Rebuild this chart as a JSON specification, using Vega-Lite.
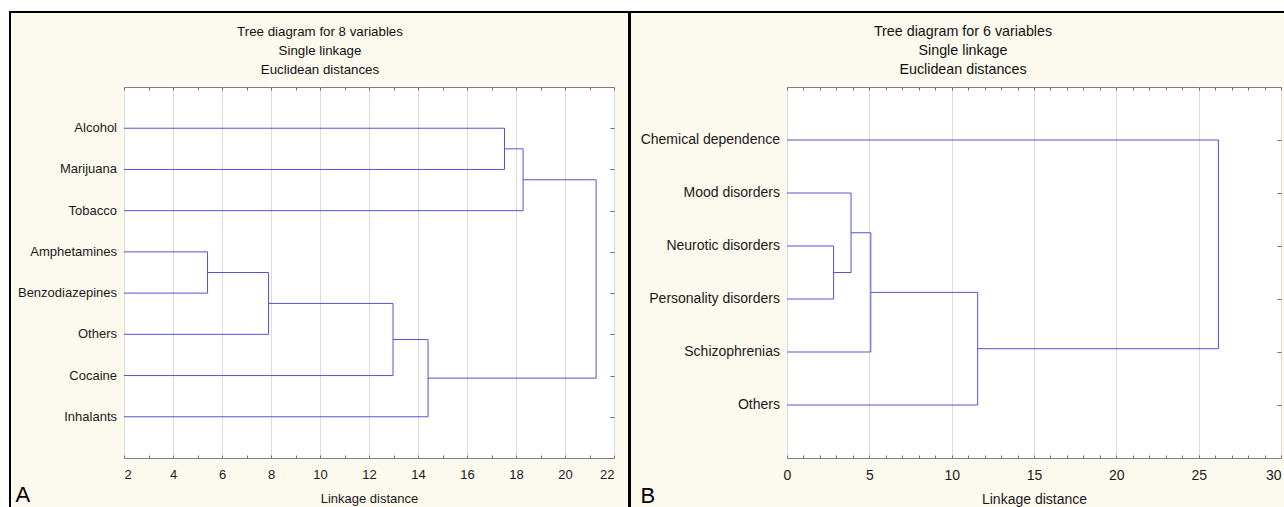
{
  "$schema": "https://vega.github.io/schema/vega-lite/v6.json",
  "background": "#fcf9ee",
  "padding": 0,
  "bounds": "flush",
  "spacing": 0,
  "align": "each",
  "columns": 9,
  "config": {
    "font": "Liberation Sans",
    "view": {"stroke": null},
    "concat": {"spacing": 0},
    "title": {"fontWeight": "normal", "fontSize": 13.3, "color": "#111111", "font": "Liberation Sans"},
    "axis": {"labelFont": "Liberation Sans", "titleFont": "Liberation Sans", "labelColor": "#1a1a1a", "titleColor": "#1a1a1a", "tickColor": "#707070", "domain": false}
  },
  "concat": [
    {"width": 9, "height": 11, "data": {"values": []}, "mark": "rect", "encoding": {}, "view": {"fill": "white", "stroke": null}},
    {"width": 2, "height": 11, "data": {"values": []}, "mark": "rect", "encoding": {}, "view": {"fill": "white", "stroke": null}},
    {"width": 113, "height": 11, "data": {"values": []}, "mark": "rect", "encoding": {}, "view": {"fill": "white", "stroke": null}},
    {"width": 490, "height": 11, "data": {"values": []}, "mark": "rect", "encoding": {}, "view": {"fill": "white", "stroke": null}},
    {"width": 14, "height": 11, "data": {"values": []}, "mark": "rect", "encoding": {}, "view": {"fill": "white", "stroke": null}},
    {"width": 3, "height": 11, "data": {"values": []}, "mark": "rect", "encoding": {}, "view": {"fill": "white", "stroke": null}},
    {"width": 156, "height": 11, "data": {"values": []}, "mark": "rect", "encoding": {}, "view": {"fill": "white", "stroke": null}},
    {"width": 494, "height": 11, "data": {"values": []}, "mark": "rect", "encoding": {}, "view": {"fill": "white", "stroke": null}},
    {"width": 3, "height": 11, "data": {"values": []}, "mark": "rect", "encoding": {}, "view": {"fill": "white", "stroke": null}},

    {"width": 9, "height": 2, "data": {"values": []}, "mark": "rect", "encoding": {}, "view": {"fill": "white", "stroke": null}},
    {"width": 2, "height": 2, "data": {"values": []}, "mark": "rect", "encoding": {}, "view": {"fill": "black", "stroke": null}},
    {"width": 113, "height": 2, "data": {"values": []}, "mark": "rect", "encoding": {}, "view": {"fill": "black", "stroke": null}},
    {"width": 490, "height": 2, "data": {"values": []}, "mark": "rect", "encoding": {}, "view": {"fill": "black", "stroke": null}},
    {"width": 14, "height": 2, "data": {"values": []}, "mark": "rect", "encoding": {}, "view": {"fill": "black", "stroke": null}},
    {"width": 3, "height": 2, "data": {"values": []}, "mark": "rect", "encoding": {}, "view": {"fill": "black", "stroke": null}},
    {"width": 156, "height": 2, "data": {"values": []}, "mark": "rect", "encoding": {}, "view": {"fill": "black", "stroke": null}},
    {"width": 494, "height": 2, "data": {"values": []}, "mark": "rect", "encoding": {}, "view": {"fill": "black", "stroke": null}},
    {"width": 3, "height": 2, "data": {"values": []}, "mark": "rect", "encoding": {}, "view": {"fill": "black", "stroke": null}},

    {"width": 9, "height": 74, "data": {"values": []}, "mark": "rect", "encoding": {}, "view": {"fill": "white", "stroke": null}},
    {"width": 2, "height": 74, "data": {"values": []}, "mark": "rect", "encoding": {}, "view": {"fill": "black", "stroke": null}},
    {"width": 113, "height": 74, "data": {"values": []}, "mark": "rect", "encoding": {}, "view": {"fill": null, "stroke": null}},
    {"width": 490, "height": 74, "data": {"values": []}, "mark": "rect", "encoding": {}, "view": {"fill": null, "stroke": null}},
    {"width": 14, "height": 74, "data": {"values": []}, "mark": "rect", "encoding": {}, "view": {"fill": null, "stroke": null}},
    {"width": 3, "height": 74, "data": {"values": []}, "mark": "rect", "encoding": {}, "view": {"fill": "black", "stroke": null}},
    {"width": 156, "height": 74, "data": {"values": []}, "mark": "rect", "encoding": {}, "view": {"fill": null, "stroke": null}},
    {"width": 494, "height": 74, "data": {"values": []}, "mark": "rect", "encoding": {}, "view": {"fill": null, "stroke": null}},
    {"width": 3, "height": 74, "data": {"values": []}, "mark": "rect", "encoding": {}, "view": {"fill": null, "stroke": null}},

    {"width": 9, "height": 371, "data": {"values": []}, "mark": "rect", "encoding": {}, "view": {"fill": "white", "stroke": null}},
    {"width": 2, "height": 371, "data": {"values": []}, "mark": "rect", "encoding": {}, "view": {"fill": "black", "stroke": null}},
    {"width": 113, "height": 371, "data": {"values": []}, "mark": "rect", "encoding": {}, "view": {"fill": null, "stroke": null}},
    {
      "width": 490, "height": 371,
      "view": {"fill": "white", "stroke": "#7f7f7f", "strokeWidth": 1},
      "title": {"text": ["Tree diagram for 8 variables", "Single linkage", "Euclidean distances"], "lineHeight": 19, "anchor": "middle", "dx": -49, "offset": 10},
      "data": {"values": [
        {"x": 2, "x2": 17.53, "y": 1, "y2": 1, "label": "Alcohol"},
        {"x": 2, "x2": 17.53, "y": 2, "y2": 2, "label": "Marijuana"},
        {"x": 2, "x2": 18.29, "y": 3, "y2": 3, "label": "Tobacco"},
        {"x": 2, "x2": 5.41, "y": 4, "y2": 4, "label": "Amphetamines"},
        {"x": 2, "x2": 5.41, "y": 5, "y2": 5, "label": "Benzodiazepines"},
        {"x": 2, "x2": 7.9, "y": 6, "y2": 6, "label": "Others"},
        {"x": 2, "x2": 12.98, "y": 7, "y2": 7, "label": "Cocaine"},
        {"x": 2, "x2": 14.41, "y": 8, "y2": 8, "label": "Inhalants"},
        {"x": 17.53, "x2": 17.53, "y": 1, "y2": 2},
        {"x": 18.29, "x2": 18.29, "y": 1.5, "y2": 3},
        {"x": 5.41, "x2": 5.41, "y": 4, "y2": 5},
        {"x": 7.9, "x2": 7.9, "y": 4.5, "y2": 6},
        {"x": 12.98, "x2": 12.98, "y": 5.25, "y2": 7},
        {"x": 14.41, "x2": 14.41, "y": 6.125, "y2": 8},
        {"x": 21.27, "x2": 21.27, "y": 2.25, "y2": 7.0625},
        {"x": 17.53, "x2": 18.29, "y": 1.5, "y2": 1.5},
        {"x": 18.29, "x2": 21.27, "y": 2.25, "y2": 2.25},
        {"x": 5.41, "x2": 7.9, "y": 4.5, "y2": 4.5},
        {"x": 7.9, "x2": 12.98, "y": 5.25, "y2": 5.25},
        {"x": 12.98, "x2": 14.41, "y": 6.125, "y2": 6.125},
        {"x": 14.41, "x2": 21.27, "y": 7.0625, "y2": 7.0625}
      ]},
      "layer": [
        {
          "mark": {"type": "rule", "color": "#5252d6", "strokeWidth": 1},
          "encoding": {
            "x": {"field": "x", "type": "quantitative", "scale": {"domain": [2, 22], "nice": false, "zero": false},
              "axis": {"orient": "bottom", "values": [2,3,4,5,6,7,8,9,10,11,12,13,14,15,16,17,18,19,20,21,22],
                "labelExpr": "datum.value % 2 === 0 ? datum.label : ''",
                "grid": true, "gridColor": "#dcdcdc",
                "gridOpacity": {"condition": {"test": "datum.value % 2 === 0", "value": 1}, "value": 0},
                "tickSize": -3, "labelPadding": 13, "labelFontSize": 13, "labelOverlap": false,
                "title": "Linkage distance", "titleFontSize": 13, "titleFontWeight": "normal", "titlePadding": 11}},
            "x2": {"field": "x2"},
            "y": {"field": "y", "type": "quantitative", "scale": {"domain": [0, 9], "reverse": true, "nice": false, "zero": false},
              "axis": {"orient": "left", "labels": false, "ticks": false, "grid": false,
                "title": "A", "titleAngle": 0, "titleAlign": "left", "titleBaseline": "alphabetic",
                "titleX": -109, "titleY": 414, "titleFontSize": 22, "titleFontWeight": "normal", "titleColor": "#000000"}},
            "y2": {"field": "y2"}
          }
        },
        {
          "transform": [{"filter": "isValid(datum.label)"}],
          "mark": {"type": "text", "align": "right", "baseline": "middle", "dx": -7, "fontSize": 13, "color": "#1a1a1a"},
          "encoding": {
            "x": {"field": "x", "type": "quantitative",
              "axis": {"orient": "top", "values": [2,3,4,5,6,7,8,9,10,11,12,13,14,15,16,17,18,19,20,21,22], "labels": false, "tickSize": -3, "grid": false, "title": null}},
            "y": {"field": "y", "type": "quantitative",
              "axis": {"orient": "right", "values": [1,2,3,4,5,6,7,8], "labels": false, "tickSize": -4, "grid": false, "title": null}},
            "text": {"field": "label"}
          }
        }
      ],
      "resolve": {"axis": {"x": "independent", "y": "independent"}}
    },
    {"width": 14, "height": 371, "data": {"values": []}, "mark": "rect", "encoding": {}, "view": {"fill": null, "stroke": null}},
    {"width": 3, "height": 371, "data": {"values": []}, "mark": "rect", "encoding": {}, "view": {"fill": "black", "stroke": null}},
    {"width": 156, "height": 371, "data": {"values": []}, "mark": "rect", "encoding": {}, "view": {"fill": null, "stroke": null}},
    {
      "width": 494, "height": 371,
      "view": {"fill": "white", "stroke": "#7f7f7f", "strokeWidth": 1},
      "title": {"text": ["Tree diagram for 6 variables", "Single linkage", "Euclidean distances"], "lineHeight": 19, "anchor": "middle", "dx": -71, "offset": 9, "fontSize": 14.3},
      "data": {"values": [
        {"x": 0, "x2": 26.2, "y": 1, "y2": 1, "label": "Chemical dependence"},
        {"x": 0, "x2": 3.89, "y": 2, "y2": 2, "label": "Mood disorders"},
        {"x": 0, "x2": 2.83, "y": 3, "y2": 3, "label": "Neurotic disorders"},
        {"x": 0, "x2": 2.83, "y": 4, "y2": 4, "label": "Personality disorders"},
        {"x": 0, "x2": 5.09, "y": 5, "y2": 5, "label": "Schizophrenias"},
        {"x": 0, "x2": 11.58, "y": 6, "y2": 6, "label": "Others"},
        {"x": 2.83, "x2": 2.83, "y": 3, "y2": 4},
        {"x": 3.89, "x2": 3.89, "y": 2, "y2": 3.5},
        {"x": 5.09, "x2": 5.09, "y": 2.75, "y2": 5},
        {"x": 11.58, "x2": 11.58, "y": 3.875, "y2": 6},
        {"x": 26.2, "x2": 26.2, "y": 1, "y2": 4.9375},
        {"x": 2.83, "x2": 3.89, "y": 3.5, "y2": 3.5},
        {"x": 3.89, "x2": 5.09, "y": 2.75, "y2": 2.75},
        {"x": 5.09, "x2": 11.58, "y": 3.875, "y2": 3.875},
        {"x": 11.58, "x2": 26.2, "y": 4.9375, "y2": 4.9375}
      ]},
      "layer": [
        {
          "mark": {"type": "rule", "color": "#5252d6", "strokeWidth": 1},
          "encoding": {
            "x": {"field": "x", "type": "quantitative", "scale": {"domain": [0, 30], "nice": false, "zero": false},
              "axis": {"orient": "bottom", "values": [0,1,2,3,4,5,6,7,8,9,10,11,12,13,14,15,16,17,18,19,20,21,22,23,24,25,26,27,28,29,30],
                "labelExpr": "datum.value % 5 === 0 ? datum.label : ''",
                "labelAlign": {"condition": {"test": "datum.value === 30", "value": "right"}, "value": "center"},
                "grid": true, "gridColor": "#dcdcdc",
                "gridOpacity": {"condition": {"test": "datum.value % 5 === 0", "value": 1}, "value": 0},
                "tickSize": -3, "labelPadding": 13, "labelFontSize": 14, "labelOverlap": false,
                "title": "Linkage distance", "titleFontSize": 14, "titleFontWeight": "normal", "titlePadding": 10}},
            "x2": {"field": "x2"},
            "y": {"field": "y", "type": "quantitative", "scale": {"domain": [0, 7], "reverse": true, "nice": false, "zero": false},
              "axis": {"orient": "left", "labels": false, "ticks": false, "grid": false,
                "title": "B", "titleAngle": 0, "titleAlign": "left", "titleBaseline": "alphabetic",
                "titleX": -147, "titleY": 415, "titleFontSize": 22, "titleFontWeight": "normal", "titleColor": "#000000"}},
            "y2": {"field": "y2"}
          }
        },
        {
          "transform": [{"filter": "isValid(datum.label)"}],
          "mark": {"type": "text", "align": "right", "baseline": "middle", "dx": -7, "fontSize": 14, "color": "#1a1a1a"},
          "encoding": {
            "x": {"field": "x", "type": "quantitative",
              "axis": {"orient": "top", "values": [0,1,2,3,4,5,6,7,8,9,10,11,12,13,14,15,16,17,18,19,20,21,22,23,24,25,26,27,28,29,30], "labels": false, "tickSize": -3, "grid": false, "title": null}},
            "y": {"field": "y", "type": "quantitative",
              "axis": {"orient": "right", "values": [1,2,3,4,5,6], "labels": false, "tickSize": -4, "grid": false, "title": null}},
            "text": {"field": "label"}
          }
        }
      ],
      "resolve": {"axis": {"x": "independent", "y": "independent"}}
    },
    {"width": 3, "height": 371, "data": {"values": []}, "mark": "rect", "encoding": {}, "view": {"fill": null, "stroke": null}},

    {"width": 9, "height": 49, "data": {"values": []}, "mark": "rect", "encoding": {}, "view": {"fill": "white", "stroke": null}},
    {"width": 2, "height": 49, "data": {"values": []}, "mark": "rect", "encoding": {}, "view": {"fill": "black", "stroke": null}},
    {"width": 113, "height": 49, "data": {"values": []}, "mark": "rect", "encoding": {}, "view": {"fill": null, "stroke": null}},
    {"width": 490, "height": 49, "data": {"values": []}, "mark": "rect", "encoding": {}, "view": {"fill": null, "stroke": null}},
    {"width": 14, "height": 49, "data": {"values": []}, "mark": "rect", "encoding": {}, "view": {"fill": null, "stroke": null}},
    {"width": 3, "height": 49, "data": {"values": []}, "mark": "rect", "encoding": {}, "view": {"fill": "black", "stroke": null}},
    {"width": 156, "height": 49, "data": {"values": []}, "mark": "rect", "encoding": {}, "view": {"fill": null, "stroke": null}},
    {"width": 494, "height": 49, "data": {"values": []}, "mark": "rect", "encoding": {}, "view": {"fill": null, "stroke": null}},
    {"width": 3, "height": 49, "data": {"values": []}, "mark": "rect", "encoding": {}, "view": {"fill": null, "stroke": null}}
  ]
}
